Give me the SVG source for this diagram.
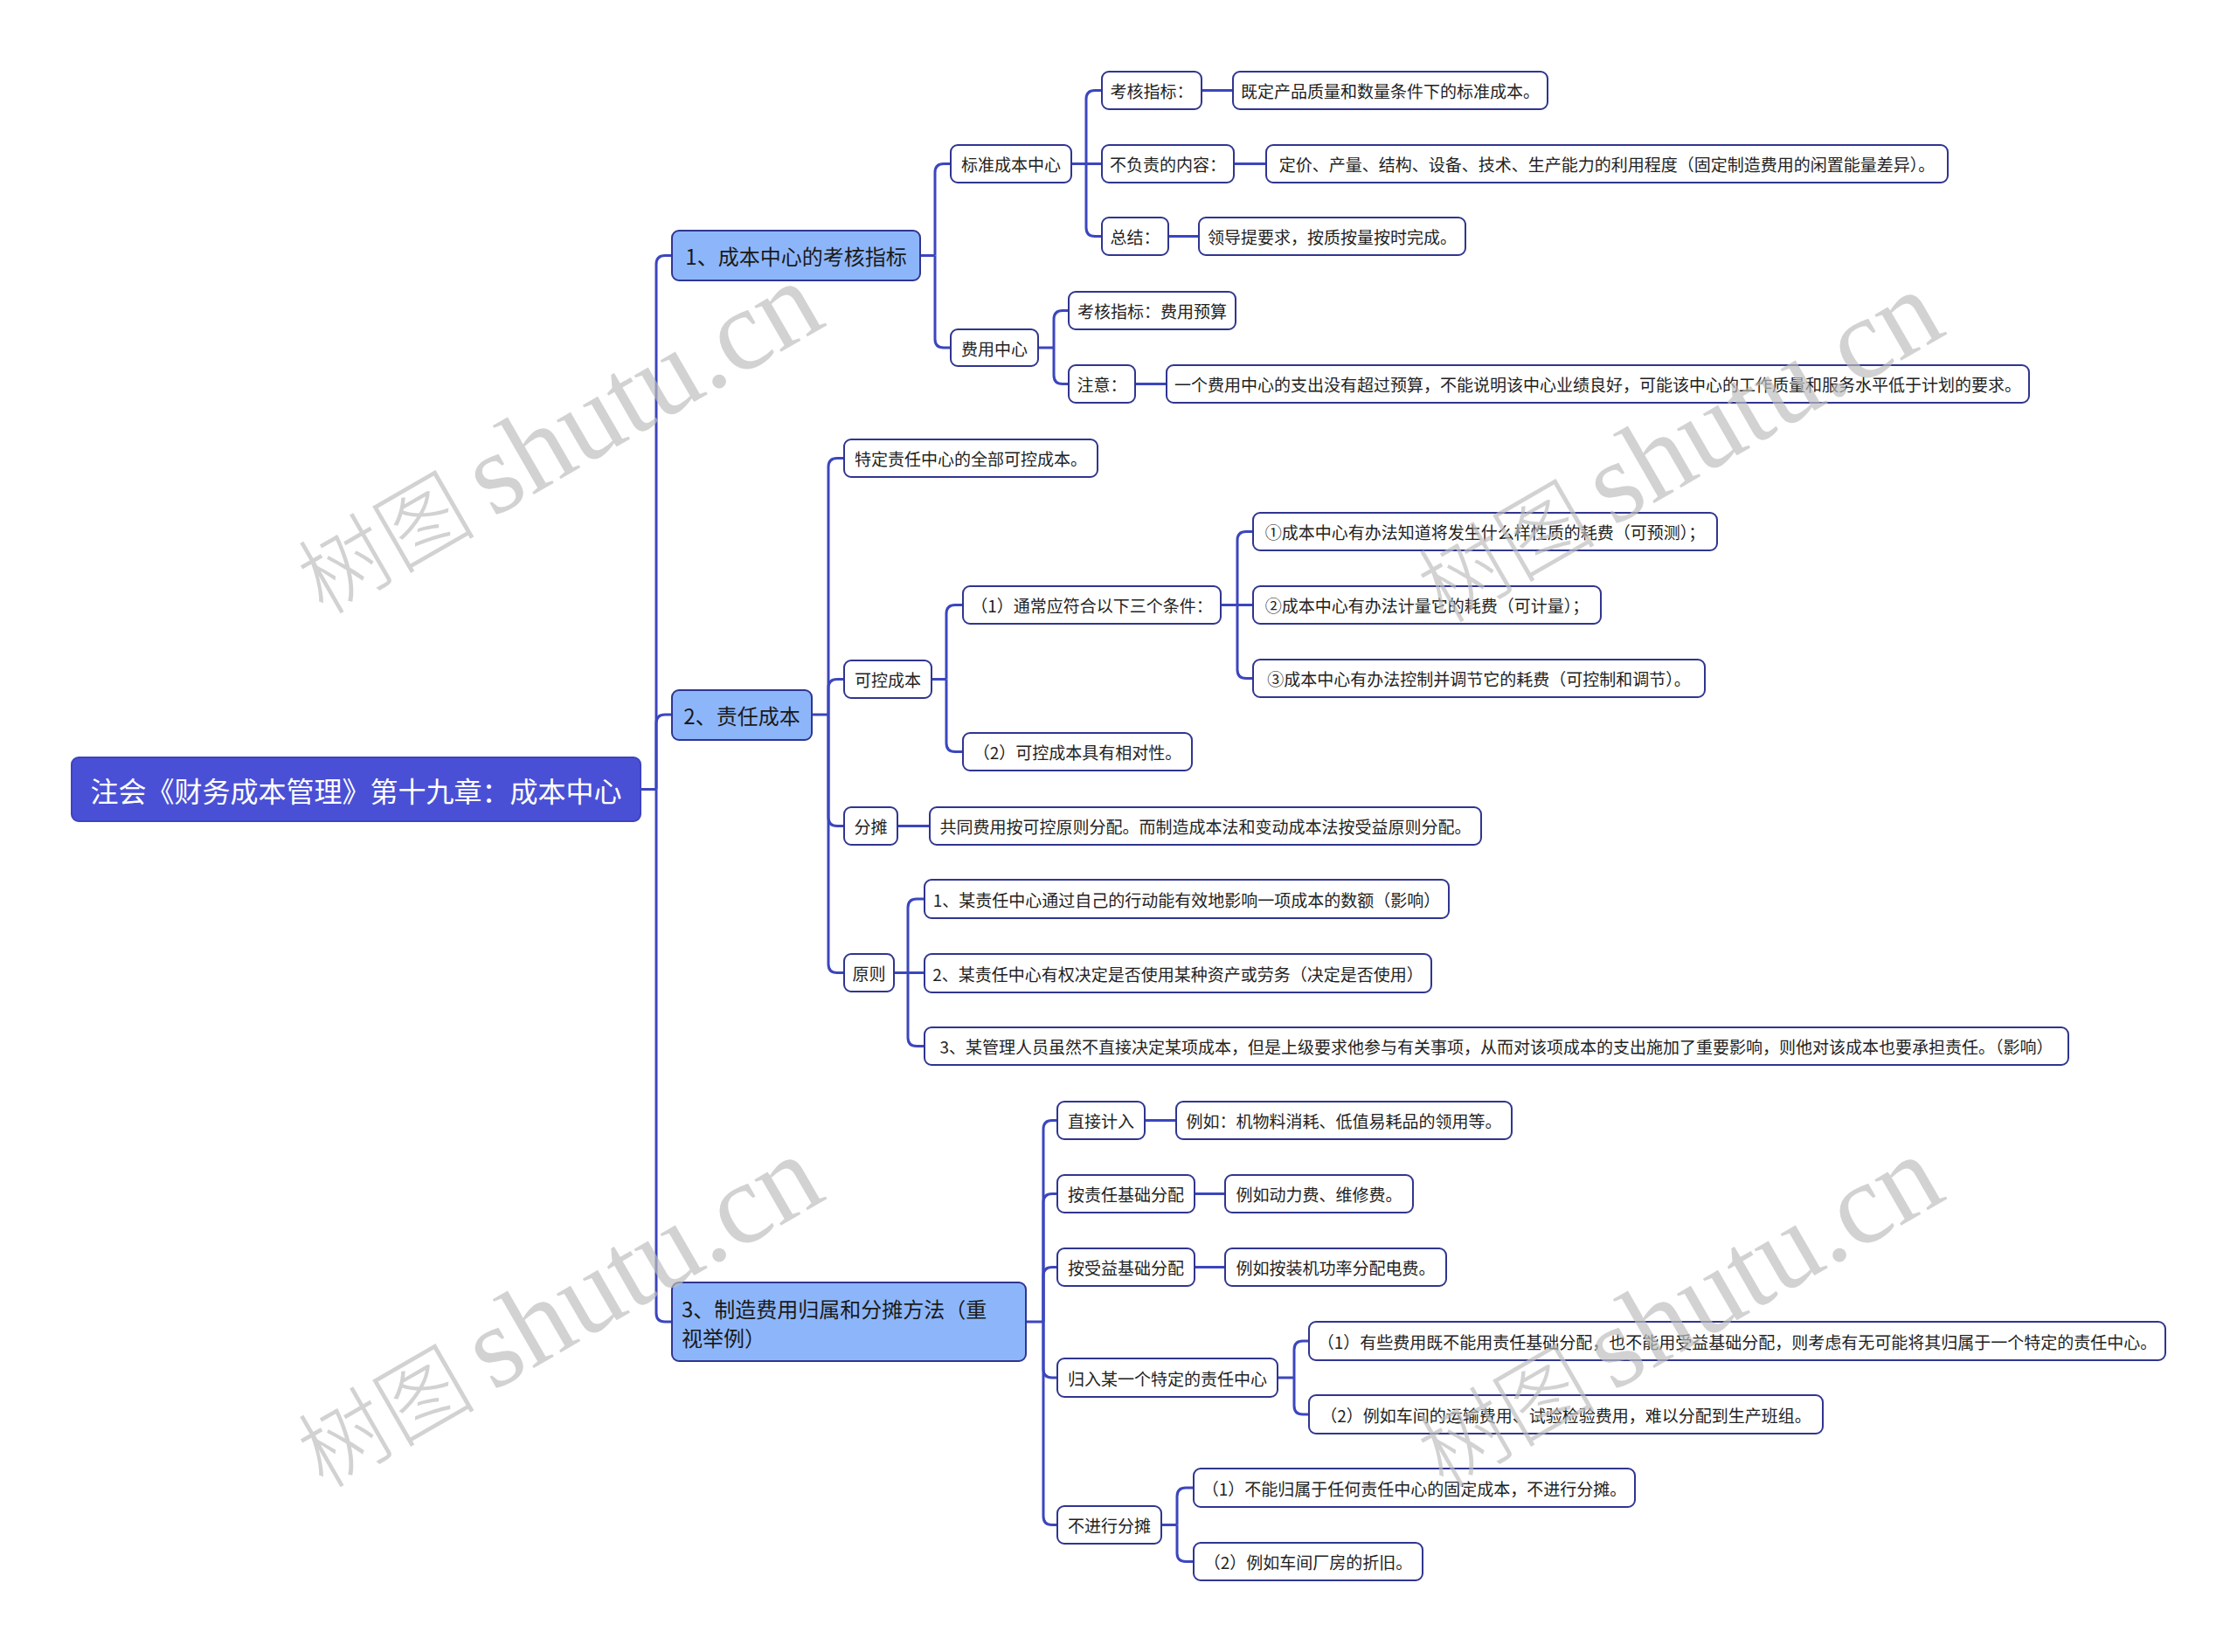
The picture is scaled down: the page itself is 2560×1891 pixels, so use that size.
<svg xmlns="http://www.w3.org/2000/svg" width="2560" height="1891" viewBox="0 0 2560 1891">
<style>
.lf rect{fill:#ffffff;stroke:#30358f;stroke-width:2}
.l1 rect{fill:#8db6fa;stroke:#30358f;stroke-width:2}
.rt rect{fill:#4a50d5;stroke:#3d43c0;stroke-width:2}
text{font-family:"Noto Sans CJK SC","Noto Sans",sans-serif;dominant-baseline:central;text-anchor:middle}
.lf text{font-size:19px;fill:#222222}
.l1 text{font-size:24px;fill:#1a1a1a}
.rt text{font-size:32px;fill:#ffffff}
#connectors path{fill:none;stroke:#3c46be;stroke-width:3}
.wm{fill:#bdbdbd;fill-opacity:0.68}
.wm .c{font-family:"Noto Sans CJK SC",sans-serif;font-size:102px;font-weight:300}
.wm .l{font-family:"Liberation Serif",serif;font-size:132px}
</style>
<rect width="2560" height="1891" fill="#ffffff"/>
<g id="connectors">
<path d="M733,903.5 H751"/>
<path d="M751,903.5 V302.5 Q751,292.5 761,292.5 H769"/>
<path d="M751,903.5 V828 Q751,818 761,818 H769"/>
<path d="M751,903.5 V1503 Q751,1513 761,1513 H769"/>
<path d="M1053,292.5 H1070"/>
<path d="M1070,292.5 V197.5 Q1070,187.5 1080,187.5 H1088"/>
<path d="M1070,292.5 V388 Q1070,398 1080,398 H1088"/>
<path d="M1226,187.5 H1243"/>
<path d="M1243,187.5 V113.5 Q1243,103.5 1253,103.5 H1261"/>
<path d="M1243,187.5 H1261"/>
<path d="M1243,187.5 V260.5 Q1243,270.5 1253,270.5 H1261"/>
<path d="M1375,103.5 H1411"/>
<path d="M1412,187.5 H1449"/>
<path d="M1337,270.5 H1372"/>
<path d="M1188,398 H1206"/>
<path d="M1206,398 V365.5 Q1206,355.5 1216,355.5 H1223"/>
<path d="M1206,398 V429.5 Q1206,439.5 1216,439.5 H1223"/>
<path d="M1299,439.5 H1335"/>
<path d="M929,818 H948"/>
<path d="M948,818 V534.5 Q948,524.5 958,524.5 H966"/>
<path d="M948,818 V787.5 Q948,777.5 958,777.5 H966"/>
<path d="M948,818 V935.5 Q948,945.5 958,945.5 H966"/>
<path d="M948,818 V1103.5 Q948,1113.5 958,1113.5 H966"/>
<path d="M1066,777.5 H1083"/>
<path d="M1083,777.5 V702.5 Q1083,692.5 1093,692.5 H1102"/>
<path d="M1083,777.5 V850.5 Q1083,860.5 1093,860.5 H1102"/>
<path d="M1397,692.5 H1416"/>
<path d="M1416,692.5 V618.5 Q1416,608.5 1426,608.5 H1434"/>
<path d="M1416,692.5 H1434"/>
<path d="M1416,692.5 V766.5 Q1416,776.5 1426,776.5 H1434"/>
<path d="M1027,945.5 H1064"/>
<path d="M1023,1113.5 H1039"/>
<path d="M1039,1113.5 V1039 Q1039,1029 1049,1029 H1058"/>
<path d="M1039,1113.5 H1058"/>
<path d="M1039,1113.5 V1187.5 Q1039,1197.5 1049,1197.5 H1058"/>
<path d="M1174,1513 H1194"/>
<path d="M1194,1513 V1292.5 Q1194,1282.5 1204,1282.5 H1210"/>
<path d="M1194,1513 V1376.5 Q1194,1366.5 1204,1366.5 H1210"/>
<path d="M1194,1513 V1460.5 Q1194,1450.5 1204,1450.5 H1210"/>
<path d="M1194,1513 V1567 Q1194,1577 1204,1577 H1210"/>
<path d="M1194,1513 V1735.5 Q1194,1745.5 1204,1745.5 H1210"/>
<path d="M1310,1282.5 H1346"/>
<path d="M1367,1366.5 H1402"/>
<path d="M1367,1450.5 H1402"/>
<path d="M1462,1577 H1481"/>
<path d="M1481,1577 V1545 Q1481,1535 1491,1535 H1498"/>
<path d="M1481,1577 V1609 Q1481,1619 1491,1619 H1498"/>
<path d="M1329,1745.5 H1347"/>
<path d="M1347,1745.5 V1713 Q1347,1703 1357,1703 H1366"/>
<path d="M1347,1745.5 V1777.5 Q1347,1787.5 1357,1787.5 H1366"/>
</g>

<g id="root" class="rt"><rect x="82" y="867" width="651" height="73" rx="8"/><text x="407.5" y="903.5">注会《财务成本管理》第十九章：成本中心</text></g>

<g id="n1" class="l1"><rect x="769" y="264" width="284" height="57" rx="8"/><text x="911" y="292.5">1、成本中心的考核指标</text></g>
<g id="n2" class="l1"><rect x="769" y="790" width="160" height="57" rx="8"/><text x="849" y="818">2、责任成本</text></g>
<g id="n3" class="l1"><rect x="769" y="1468" width="405" height="90" rx="8"/><text style="text-anchor:start" x="780" y="1497">3、制造费用归属和分摊方法（重</text><text style="text-anchor:start" x="780" y="1530">视举例）</text></g>

<g id="a1" class="lf"><rect x="1088" y="166" width="138" height="43" rx="8"/><text x="1157" y="187.5">标准成本中心</text></g>
<g id="a2" class="lf"><rect x="1088" y="377" width="100" height="42" rx="8"/><text x="1138" y="398">费用中心</text></g>
<g id="b1" class="lf"><rect x="1261" y="82" width="114" height="43" rx="8"/><text x="1318" y="103.5">考核指标：</text></g>
<g id="b1a" class="lf"><rect x="1411" y="82" width="360" height="43" rx="8"/><text x="1591" y="103.5">既定产品质量和数量条件下的标准成本。</text></g>
<g id="b2" class="lf"><rect x="1261" y="166" width="151" height="43" rx="8"/><text x="1336.5" y="187.5">不负责的内容：</text></g>
<g id="b2a" class="lf"><rect x="1449" y="166" width="780" height="43" rx="8"/><text x="1839" y="187.5">定价、产量、结构、设备、技术、生产能力的利用程度（固定制造费用的闲置能量差异）。</text></g>
<g id="b3" class="lf"><rect x="1261" y="249" width="76" height="43" rx="8"/><text x="1299" y="270.5">总结：</text></g>
<g id="b3a" class="lf"><rect x="1372" y="249" width="305" height="43" rx="8"/><text x="1524.5" y="270.5">领导提要求，按质按量按时完成。</text></g>
<g id="c1" class="lf"><rect x="1223" y="334" width="191" height="43" rx="8"/><text x="1318.5" y="355.5">考核指标：费用预算</text></g>
<g id="c2" class="lf"><rect x="1223" y="418" width="76" height="43" rx="8"/><text x="1261" y="439.5">注意：</text></g>
<g id="c2a" class="lf"><rect x="1335" y="418" width="987" height="43" rx="8"/><text x="1828.5" y="439.5">一个费用中心的支出没有超过预算，不能说明该中心业绩良好，可能该中心的工作质量和服务水平低于计划的要求。</text></g>

<g id="d1" class="lf"><rect x="966" y="503" width="290" height="43" rx="8"/><text x="1111" y="524.5">特定责任中心的全部可控成本。</text></g>
<g id="d2" class="lf"><rect x="966" y="756" width="100" height="43" rx="8"/><text x="1016" y="777.5">可控成本</text></g>
<g id="d3" class="lf"><rect x="966" y="924" width="61" height="43" rx="8"/><text x="996.5" y="945.5">分摊</text></g>
<g id="d4" class="lf"><rect x="966" y="1092" width="57" height="43" rx="8"/><text x="994.5" y="1113.5">原则</text></g>
<g id="e1" class="lf"><rect x="1102" y="671" width="295" height="43" rx="8"/><text x="1249.5" y="692.5">（1）通常应符合以下三个条件：</text></g>
<g id="e2" class="lf"><rect x="1102" y="839" width="262" height="43" rx="8"/><text x="1233" y="860.5">（2）可控成本具有相对性。</text></g>
<g id="f1" class="lf"><rect x="1434" y="587" width="531" height="43" rx="8"/><text x="1699.5" y="608.5">①成本中心有办法知道将发生什么样性质的耗费（可预测）；</text></g>
<g id="f2" class="lf"><rect x="1434" y="671" width="398" height="43" rx="8"/><text x="1633" y="692.5">②成本中心有办法计量它的耗费（可计量）；</text></g>
<g id="f3" class="lf"><rect x="1434" y="755" width="517" height="43" rx="8"/><text x="1692.5" y="776.5">③成本中心有办法控制并调节它的耗费（可控制和调节）。</text></g>
<g id="g1" class="lf"><rect x="1064" y="924" width="631" height="43" rx="8"/><text x="1379.5" y="945.5">共同费用按可控原则分配。而制造成本法和变动成本法按受益原则分配。</text></g>
<g id="h1" class="lf"><rect x="1058" y="1007" width="600" height="44" rx="8"/><text x="1358" y="1029">1、某责任中心通过自己的行动能有效地影响一项成本的数额（影响）</text></g>
<g id="h2" class="lf"><rect x="1058" y="1092" width="580" height="44" rx="8"/><text x="1348" y="1114">2、某责任中心有权决定是否使用某种资产或劳务（决定是否使用）</text></g>
<g id="h3" class="lf"><rect x="1058" y="1176" width="1309" height="43" rx="8"/><text x="1712.5" y="1197.5">3、某管理人员虽然不直接决定某项成本，但是上级要求他参与有关事项，从而对该项成本的支出施加了重要影响，则他对该成本也要承担责任。（影响）</text></g>

<g id="i1" class="lf"><rect x="1210" y="1261" width="100" height="43" rx="8"/><text x="1260" y="1282.5">直接计入</text></g>
<g id="i1a" class="lf"><rect x="1346" y="1261" width="384" height="43" rx="8"/><text x="1538" y="1282.5">例如：机物料消耗、低值易耗品的领用等。</text></g>
<g id="i2" class="lf"><rect x="1210" y="1345" width="157" height="43" rx="8"/><text x="1288.5" y="1366.5">按责任基础分配</text></g>
<g id="i2a" class="lf"><rect x="1402" y="1345" width="215" height="43" rx="8"/><text x="1509.5" y="1366.5">例如动力费、维修费。</text></g>
<g id="i3" class="lf"><rect x="1210" y="1429" width="157" height="43" rx="8"/><text x="1288.5" y="1450.5">按受益基础分配</text></g>
<g id="i3a" class="lf"><rect x="1402" y="1429" width="253" height="43" rx="8"/><text x="1528.5" y="1450.5">例如按装机功率分配电费。</text></g>
<g id="i4" class="lf"><rect x="1210" y="1555" width="252" height="44" rx="8"/><text x="1336" y="1577">归入某一个特定的责任中心</text></g>
<g id="j1" class="lf"><rect x="1498" y="1513" width="980" height="44" rx="8"/><text x="1988" y="1535">（1）有些费用既不能用责任基础分配，也不能用受益基础分配，则考虑有无可能将其归属于一个特定的责任中心。</text></g>
<g id="j2" class="lf"><rect x="1498" y="1597" width="588" height="44" rx="8"/><text x="1792" y="1619">（2）例如车间的运输费用、试验检验费用，难以分配到生产班组。</text></g>
<g id="i5" class="lf"><rect x="1210" y="1724" width="119" height="43" rx="8"/><text x="1269.5" y="1745.5">不进行分摊</text></g>
<g id="k1" class="lf"><rect x="1366" y="1681" width="505" height="44" rx="8"/><text x="1618.5" y="1703">（1）不能归属于任何责任中心的固定成本，不进行分摊。</text></g>
<g id="k2" class="lf"><rect x="1366" y="1766" width="262" height="43" rx="8"/><text x="1497" y="1787.5">（2）例如车间厂房的折旧。</text></g>

<g id="watermarks" class="wm">
<text transform="translate(370,705) rotate(-30)" style="text-anchor:start;dominant-baseline:auto"><tspan class="c">树图</tspan><tspan class="l" dx="20">shutu.cn</tspan></text>
<text transform="translate(1652,715) rotate(-30)" style="text-anchor:start;dominant-baseline:auto"><tspan class="c">树图</tspan><tspan class="l" dx="20">shutu.cn</tspan></text>
<text transform="translate(370,1705) rotate(-30)" style="text-anchor:start;dominant-baseline:auto"><tspan class="c">树图</tspan><tspan class="l" dx="20">shutu.cn</tspan></text>
<text transform="translate(1652,1705) rotate(-30)" style="text-anchor:start;dominant-baseline:auto"><tspan class="c">树图</tspan><tspan class="l" dx="20">shutu.cn</tspan></text>
</g>
</svg>
